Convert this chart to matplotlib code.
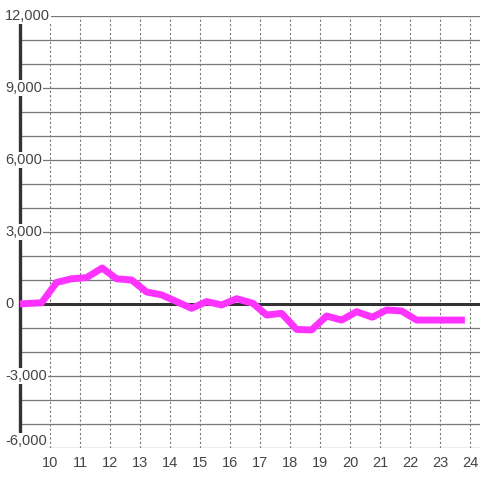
import matplotlib
matplotlib.use("Agg")
import matplotlib.pyplot as plt

plt.rcParams['font.family'] = ['Liberation Sans', 'DejaVu Sans']

# data (hour of day, value)
hours = [9.0, 9.22, 9.72, 10.22, 10.72, 11.22, 11.74, 12.22, 12.72, 13.22, 13.72,
         14.22, 14.72, 15.22, 15.72, 16.22, 16.76, 17.22, 17.72, 18.22, 18.72,
         19.22, 19.72, 20.22, 20.74, 21.22, 21.72, 22.22, 22.72, 23.22, 23.83]
values = [0, 20, 50, 900, 1050, 1100, 1500, 1050, 1000, 500, 380,
          100, -180, 100, -40, 220, 30, -460, -390, -1060, -1080,
          -500, -670, -320, -550, -250, -290, -670, -670, -670, -670]

x_ticks = list(range(10, 25))
y_ticks = [-6000, -3000, 0, 3000, 6000, 9000, 12000]
y_labels = ['-6,000', '-3,000', '0', '3,000', '6,000', '9,000', '12,000']

fig = plt.figure(figsize=(4.8, 4.8), dpi=100)
ax = fig.add_axes([20/480, 32/480, 460/480, 432/480])

ax.set_xlim(9, 24 + 1/3)
ax.set_ylim(-6000, 12000)

# grid
ax.set_yticks(range(-6000, 12001, 1000))
ax.set_xticks(x_ticks)
ax.grid(axis='y', color='#777777', lw=0.9, ls='-')
ax.grid(axis='x', color='#777777', lw=0.8, ls=(0, (2, 2)))
ax.set_axisbelow(True)

for s in ['top', 'right', 'bottom']:
    ax.spines[s].set_visible(False)
ax.spines['left'].set_color('#333333')
ax.spines['left'].set_linewidth(2.4)
ax.spines['left'].set_zorder(3)
ax.spines['left'].set_bounds(-5500, 12000)

ax.tick_params(axis='both', length=0)
ax.tick_params(axis='x', labelsize=10.5, labelcolor='#444444', pad=6)
ax.set_yticklabels([])

ax.axhline(0, color='#333333', lw=2.2, zorder=3)

ax.plot(hours, values, color='#ff33ff', lw=5, solid_capstyle='butt',
        solid_joinstyle='round', zorder=5, clip_on=False)

# y labels with white box over spine/grid
for v, lab in zip(y_ticks, y_labels):
    va = 'bottom' if v == -6000 else 'center'
    ax.text(-15/460, v, lab, transform=ax.get_yaxis_transform(),
            ha='left', va=va, fontsize=10.5, color='#444444', zorder=10,
            clip_on=False,
            bbox=dict(facecolor='white', edgecolor='none', pad=1.0))

fig.savefig('out.png', dpi=100)
